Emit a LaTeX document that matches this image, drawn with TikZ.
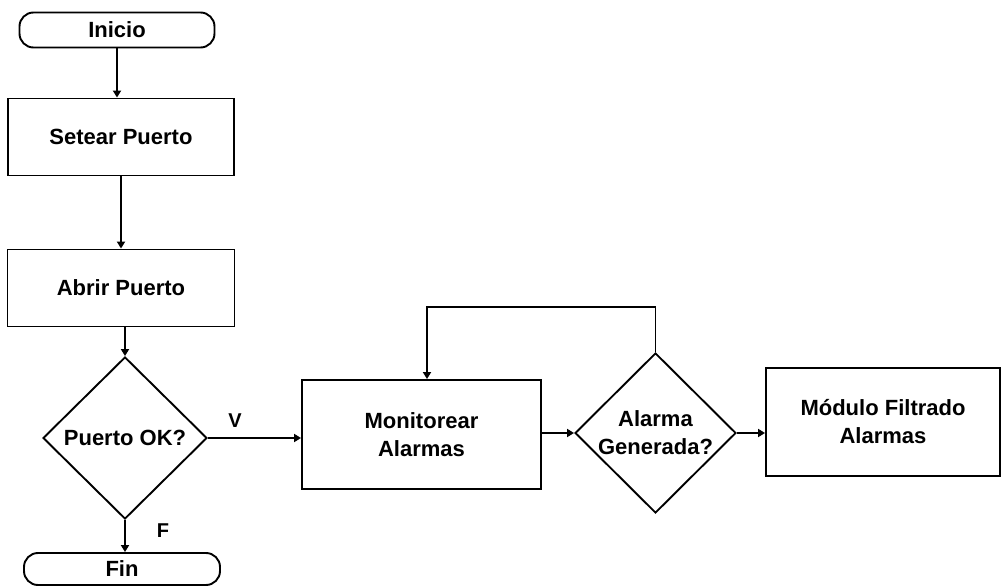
\documentclass[tikz,border=0pt]{standalone}
\usepackage{fontspec}
\setmainfont{Liberation Sans}
\usetikzlibrary{shapes.geometric,arrows.meta}
\begin{document}
\begin{tikzpicture}[x=1pt,y=-1pt,
  every node/.style={font=\fontsize{22}{28}\selectfont\bfseries, align=center, inner sep=0pt, line width=1.9pt},
  term/.style={draw, rectangle, rounded corners=14pt},
  proc/.style={draw, rectangle},
  dec/.style={draw, diamond},
  lbl/.style={font=\fontsize{20}{22}\selectfont\bfseries},
  conn/.style={draw, line width=1.9pt, -{Triangle[length=7pt,width=8pt]}}
]
\useasboundingbox (0,0) rectangle (1002,588);
\node[term, minimum width=195pt, minimum height=35pt] (inicio) at (117,30) {Inicio};
\node[proc, minimum width=226pt, minimum height=77pt] (setear) at (121,137) {Setear Puerto};
\node[proc, minimum width=227pt, minimum height=77pt] (abrir) at (121,288) {Abrir Puerto};
\node[dec, minimum width=164pt, minimum height=162pt] (puerto) at (125,438) {Puerto OK?};
\node[term, minimum width=196pt, minimum height=32pt] (fin) at (122,569) {Fin};
\node[proc, minimum width=239pt, minimum height=109pt] (monitor) at (421.5,434.5) {Monitorear\\Alarmas};
\node[dec, minimum width=161pt, minimum height=160pt] (alarma) at (655.5,433) {Alarma\\Generada?};
\node[proc, minimum width=234pt, minimum height=108pt] (modulo) at (883,422) {Módulo Filtrado\\Alarmas};
\node[lbl] (v) at (235,421) {V};
\node[lbl] (f) at (163,531) {F};
\coordinate (loopR) at (655.5,307);
\coordinate (loopL) at (427,307);
\path[conn] (inicio.south) -- (inicio.south |- setear.north);
\path[conn] (setear.south) -- (abrir.north);
\path[conn] (puerto.north |- abrir.south) -- (puerto.north);
\path[conn] (puerto.east) -- (puerto.east -| monitor.west);
\path[conn] (puerto.south) -- (puerto.south |- fin.north);
\path[conn] (monitor.east |- alarma.west) -- (alarma.west);
\path[conn] (alarma.north) -- (loopR) -- (loopL) -- (loopL |- monitor.north);
\path[conn] (alarma.east) -- (alarma.east -| modulo.west);
\end{tikzpicture}
\end{document}
